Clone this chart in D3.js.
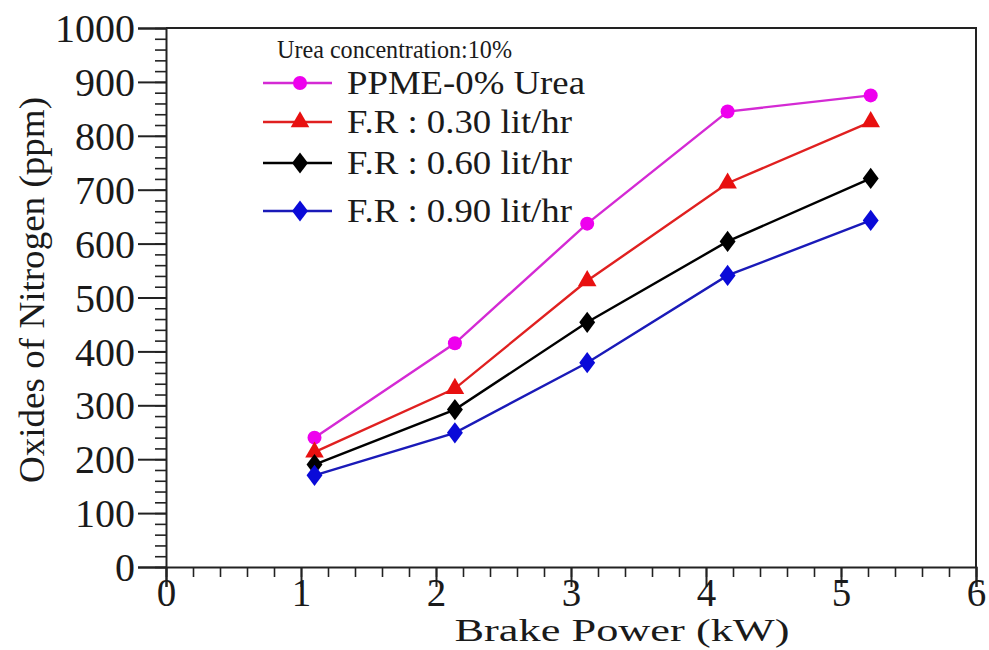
<!DOCTYPE html>
<html><head><meta charset="utf-8">
<script src="https://cdn.jsdelivr.net/npm/d3@7"></script>
<style>body{margin:0;background:#fff}svg{display:block}svg text{font-family:'Liberation Serif','DejaVu Serif','Times New Roman',Times,serif !important;fill:#1a1a1a}</style>
</head><body><svg id="c" width="989" height="650"></svg>
<script>
const brakePower = [1.1, 2.14, 3.12, 4.16, 5.22];
const ppme0 = [240, 415, 637, 845, 875];
const fr030 = [213, 331, 531, 712, 826];
const fr060 = [190, 292, 454, 604, 721];
const fr090 = [170, 249, 379, 541, 643];
const seriesNames = ["PPME-0% Urea", "F.R : 0.30 lit/hr", "F.R : 0.60 lit/hr", "F.R : 0.90 lit/hr"];
const seriesColors = ["#ee00ee", "#e81010", "#000000", "#0a0ad8"];
const lineColors = ["#d42ad4", "#e02020", "#000000", "#1a1ab8"];
const seriesShapes = ["circle", "triangle", "diamond", "diamond"];
const xTicks = [0, 1, 2, 3, 4, 5, 6];
const yTicks = [0, 100, 200, 300, 400, 500, 600, 700, 800, 900, 1000];
const legendTitle = "Urea concentration:10%";
const xTitle = "Brake Power (kW)";
const yTitle = "Oxides of Nitrogen (ppm)";

const FONT = "'Liberation Serif','DejaVu Serif','Times New Roman',Times,serif";
const allSeries = [ppme0, fr030, fr060, fr090];
const svg = d3.select("#c");
const L = 166, R = 976, T = 28, B = 567;
const x = d3.scaleLinear().domain([0, 6]).range([L, R]);
const y = d3.scaleLinear().domain([0, 1000]).range([B, T]);

// frame
svg.append("path").attr("d", `M${L},${T}H${R}V${B}`).attr("fill","none").attr("stroke","#222").attr("stroke-width",2);

// x axis
const gx = svg.append("g").attr("transform",`translate(0,${B})`);
gx.call(d3.axisBottom(x).tickValues(d3.range(0, 6.01, 0.2)).tickSize(10).tickFormat(""));
gx.select(".domain").remove();
gx.selectAll(".tick line").attr("stroke","#222").attr("stroke-width",1.6);
const gx2 = svg.append("g").attr("transform",`translate(0,${B})`);
gx2.call(d3.axisBottom(x).tickValues(xTicks).tickSize(20).tickPadding(3).tickFormat(d3.format("d")));
gx2.attr("font-family",FONT);
gx2.select(".domain").attr("stroke","#222").attr("stroke-width",2);
gx2.selectAll(".tick line").attr("stroke","#222").attr("stroke-width",2);
gx2.selectAll(".tick text").attr("font-size",39).attr("fill","#1a1a1a").attr("dy","0.42em");

// y axis
const gy = svg.append("g").attr("transform",`translate(${L},0)`);
gy.call(d3.axisLeft(y).tickValues(d3.range(0, 1001, 20)).tickSize(11).tickFormat(""));
gy.select(".domain").remove();
gy.selectAll(".tick line").attr("stroke","#222").attr("stroke-width",1.6);
const gy2 = svg.append("g").attr("transform",`translate(${L},0)`);
gy2.call(d3.axisLeft(y).tickValues(yTicks).tickSize(28).tickPadding(3).tickFormat(d3.format("d")));
gy2.attr("font-family",FONT);
gy2.select(".domain").attr("stroke","#222").attr("stroke-width",2);
gy2.selectAll(".tick line").attr("stroke","#222").attr("stroke-width",2);
gy2.selectAll(".tick text").attr("font-size",40).attr("fill","#1a1a1a").attr("dy","0.34em");

// titles
svg.append("text").attr("x", 622).attr("y", 641).attr("text-anchor","middle").attr("font-size",32).attr("font-family",FONT)
  .attr("textLength",335).attr("lengthAdjust","spacingAndGlyphs").text(xTitle);
svg.append("text").attr("transform","translate(44,290) rotate(-90)").attr("text-anchor","middle").attr("font-size",36).attr("font-family",FONT)
  .attr("textLength",386).attr("lengthAdjust","spacingAndGlyphs").text(yTitle);

function marker(g, shape, cx, cy, color) {
  if (shape === "circle") g.append("circle").attr("cx",cx).attr("cy",cy).attr("r",7).attr("fill",color);
  else if (shape === "triangle") g.append("path").attr("d", d3.symbol(d3.symbolTriangle, 150)()).attr("transform",`translate(${cx},${cy})`).attr("fill",color);
  else g.append("path").attr("d", d3.symbol(d3.symbolDiamond, 130)()).attr("transform",`translate(${cx},${cy}) scale(1.3,1)`).attr("fill",color);
}

const line = d3.line().x(d => x(d[0])).y(d => y(d[1]));
allSeries.forEach((vals, i) => {
  const pts = brakePower.map((bp, j) => [bp, vals[j]]);
  const g = svg.append("g");
  g.append("path").attr("d", line(pts)).attr("fill","none").attr("stroke",lineColors[i]).attr("stroke-width",2.4);
  pts.forEach(p => marker(g, seriesShapes[i], x(p[0]), y(p[1]), seriesColors[i]));
});

// legend
svg.append("text").attr("x",277).attr("y",58).attr("font-size",25).attr("font-family",FONT).attr("textLength",235).attr("lengthAdjust","spacingAndGlyphs").text(legendTitle);
const legY = [83, 122, 163, 211];
seriesNames.forEach((name, i) => {
  const g = svg.append("g");
  g.append("line").attr("x1",263).attr("x2",332).attr("y1",legY[i]).attr("y2",legY[i]).attr("stroke",lineColors[i]).attr("stroke-width",2.4);
  marker(g, seriesShapes[i], 300, legY[i], seriesColors[i]);
  g.append("text").attr("x",347).attr("y",legY[i]+11).attr("font-size",33).attr("font-family",FONT)
    .attr("textLength", name.length > 12 ? 225 : 238).attr("lengthAdjust","spacingAndGlyphs").text(name);
});
</script></body></html>
